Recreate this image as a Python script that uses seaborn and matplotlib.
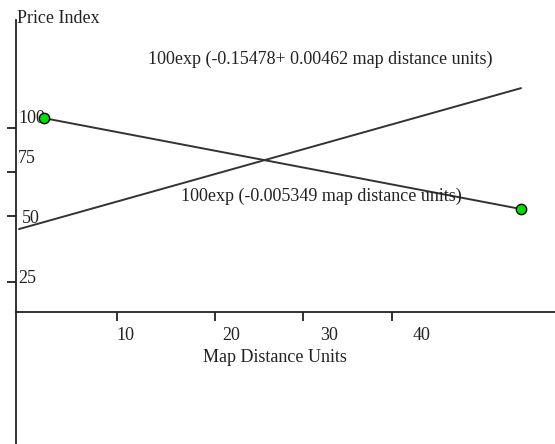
import numpy as np
import pandas as pd
import seaborn as sns
import matplotlib
matplotlib.use('Agg')
import matplotlib.pyplot as plt

# values (map distance units / price index)
falling_x = [2.8, 50.5]
falling_y = [105.4, 56.0]
rising_x = [0.3, 50.5]
rising_y = [45.1, 121.7]

xtick_pos = [10.1, 19.9, 28.7, 37.6]
xtick_labels = ['10', '20', '30', '40']
xlabel_pos = [10.9, 21.5, 31.3, 40.6]

ytick_pos = [100.0, 76.1, 52.2, 16.3]
ytick_labels = ['100', '75', '50', '25']
ylabel_pos = [105.4, 83.7, 51.1, 18.5]
ylabel_x = [0.2, 0.2, 0.6, 0.2]

eq_rising = '100exp (-0.15478+ 0.00462 map distance units)'
eq_falling = '100exp (-0.005349 map distance units)'

sns.set_style('white')
plt.rcParams['font.family'] = ['Liberation Serif', 'DejaVu Serif']

df_fall = pd.DataFrame({'x': falling_x, 'y': falling_y})
df_rise = pd.DataFrame({'x': rising_x, 'y': rising_y})

fig = plt.figure(figsize=(5.55, 4.44), dpi=100)
ax = fig.add_axes([0, 0, 1, 1])
ax.set_xlim(-1.6, 53.9)
ax.set_ylim(-71.7, 169.6)

line_col = '#333333'
sns.lineplot(data=df_fall, x='x', y='y', ax=ax, color=line_col, lw=1.4)
sns.lineplot(data=df_rise, x='x', y='y', ax=ax, color=line_col, lw=1.4)
sns.scatterplot(data=df_fall, x='x', y='y', ax=ax, color='#00e000',
                edgecolor='black', linewidth=1, s=55, zorder=5)

# axes drawn through the origin
for side in ['top', 'right']:
    ax.spines[side].set_visible(False)
ax.spines['left'].set_position(('data', 0))
ax.spines['bottom'].set_position(('data', 0))
ax.spines['left'].set_bounds(-71.7, 158.7)
ax.spines['bottom'].set_bounds(0, 53.9)
for side in ['left', 'bottom']:
    ax.spines[side].set_color('#222222')
    ax.spines[side].set_linewidth(1.3)

ax.set_xticks(xtick_pos, labels=[''] * len(xtick_pos))
ax.set_yticks(ytick_pos, labels=[''] * len(ytick_pos))
ax.tick_params(bottom=True, left=True, direction='out', length=6.5,
               width=1.3, color='#222222')
ax.set_xlabel('')
ax.set_ylabel('')

txt = '#222222'
fs = 13
for x, lab in zip(xlabel_pos, xtick_labels):
    ax.text(x, -13.0, lab, ha='center', va='center', fontsize=fs, color=txt)
for x, y, lab in zip(ylabel_x, ylabel_pos, ytick_labels):
    ax.text(x, y, lab, ha='left', va='center', fontsize=fs, color=txt)

ax.text(0.1, 159.5, 'Price Index', ha='left', va='center', fontsize=fs, color=txt)
ax.text(25.9, -24.5, 'Map Distance Units', ha='center', va='center', fontsize=fs, color=txt)
ax.text(13.2, 137.5, eq_rising, ha='left', va='center', fontsize=fs, color=txt)
ax.text(16.5, 63.0, eq_falling, ha='left', va='center', fontsize=fs, color=txt)

fig.savefig('out.png', dpi=100)
